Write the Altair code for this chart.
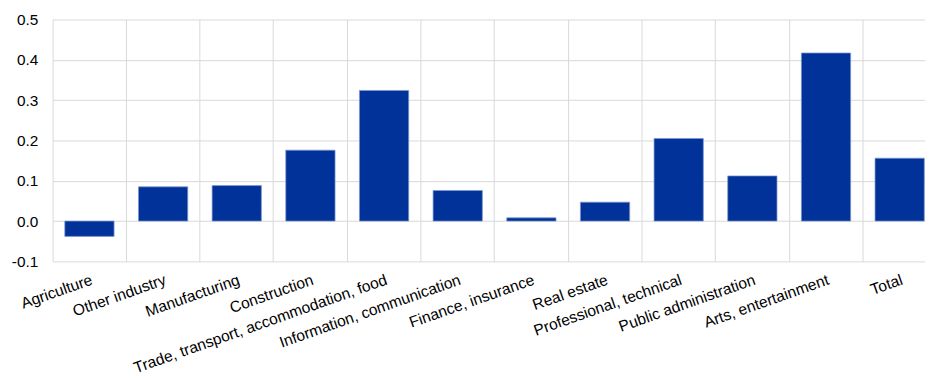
import altair as alt
import pandas as pd

categories = [
    "Agriculture",
    "Other industry",
    "Manufacturing",
    "Construction",
    "Trade, transport, accommodation, food",
    "Information, communication",
    "Finance, insurance",
    "Real estate",
    "Professional, technical",
    "Public administration",
    "Arts, entertainment",
    "Total",
]
values = [-0.038, 0.085, 0.088, 0.176, 0.324, 0.076, 0.008, 0.047, 0.205, 0.112, 0.417, 0.156]
y_ticks = [-0.1, 0.0, 0.1, 0.2, 0.3, 0.4, 0.5]

df = pd.DataFrame({"sector": categories, "value": values})

FONT = "Liberation Sans"
GRID = "#d9d9d9"

chart = (
    alt.Chart(df)
    .mark_bar(
        color="#003299",
        stroke="#7f97d0",
        strokeWidth=0.75,
        width=alt.RelativeBandSize(0.669),
    )
    .encode(
        x=alt.X(
            "sector:N",
            sort=categories,
            title=None,
            scale=alt.Scale(range=[0, 891.6], paddingInner=0, paddingOuter=0),
            axis=alt.Axis(
                bandPosition=0,
                grid=True,
                gridColor=GRID,
                gridWidth=1,
                ticks=False,
                domain=False,
                labelAngle=-19.5,
                labelAlign="right",
                labelBaseline="top",
                labelPadding=11,
                labelFont=FONT,
                labelFontSize=15.7,
                labelColor="#000000",
                labelOverlap=False,
                labelLimit=0,
            ),
        ),
        y=alt.Y(
            "value:Q",
            title=None,
            scale=alt.Scale(domain=[-0.1, 0.5], nice=False, zero=False),
            axis=alt.Axis(
                values=y_ticks,
                labelExpr="datum.value < -0.0001 ? '-' + format(-datum.value, '.1f') : format(datum.value, '.1f')",
                grid=True,
                gridColor=GRID,
                gridWidth=1,
                ticks=False,
                domain=False,
                labelPadding=15,
                labelFont=FONT,
                labelFontSize=15.5,
                labelColor="#000000",
            ),
        ),
    )
    .properties(
        width=880,
        height=244,
        autosize=alt.AutoSizeParams(type="none"),
        padding={"left": 45, "top": 10, "right": 0, "bottom": 115},
    )
    .configure_view(stroke=None)
)

chart.save("out.html", embed_options={"renderer": "svg", "actions": False})
